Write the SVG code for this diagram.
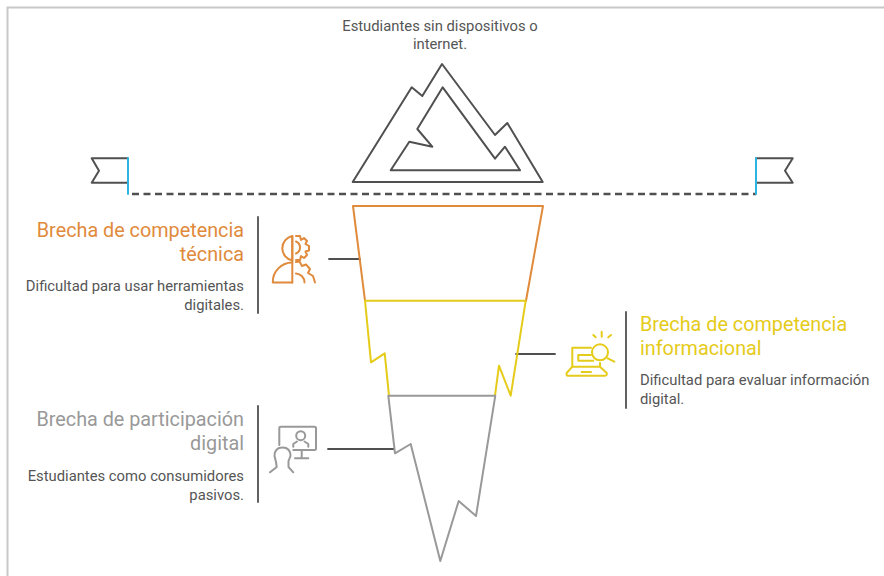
<svg xmlns="http://www.w3.org/2000/svg" width="884" height="576" viewBox="0 0 884 576">
<style>
text{font-family:Roboto,"Liberation Sans",sans-serif}
.t{font-size:19.800px}
.b{font-size:14.800px;fill:#555}
.s{fill:none;stroke-linejoin:round;stroke-linecap:round}
.k{stroke:#505050;stroke-width:2}
.o{stroke:#e08a3c;stroke-width:2}
.y{stroke:#e5cb1a;stroke-width:2}
.g{stroke:#999;stroke-width:2}
.c{stroke:#505050;stroke-width:1.800}
</style>
<rect width="884" height="576" fill="#fff"/>
<path d="M7.500 576V7.500H884" fill="none" stroke="#c8c8c8" stroke-width="2"/>
<g id="peak">
<path class="s k" d="M352.700 182L411.700 87.300L422.300 96L442 64L495 135L507.300 123L542.700 182Z"/>
<path class="s k" d="M442.700 87.300L495 158.700L505 146.700L520 170.300H390.700L409.300 141.700L432.300 146.700L417.300 129Z"/>
<text class="b" x="440" y="31" text-anchor="middle">Estudiantes sin dispositivos o</text>
<text class="b" x="440" y="49" text-anchor="middle">internet.</text>
</g>
<g id="waterline">
<path d="M132 194H756" fill="none" stroke="#505050" stroke-width="2.500" stroke-dasharray="7 4.500"/>
<path class="s k" d="M127.700 158.300H91.700L99 170.700L91.700 182.700H127.700"/>
<path class="s" stroke="#2eb4e0" stroke-width="2" d="M128 158V194"/>
<path class="s k" d="M756 158.300H792.700L785 170.700L792.700 182.700H756"/>
<path class="s" stroke="#2eb4e0" stroke-width="2" d="M756 158V194"/>
</g>
<g id="connectors">
<path class="s c" d="M329 259H360"/>
<path class="s c" d="M516 354H555"/>
<path class="s c" d="M328 449H394"/>
<path class="s c" d="M258 217V313"/>
<path class="s c" d="M626 312V408"/>
<path class="s c" d="M258 406V502"/>
</g>
<g id="tecnica">
<path class="s o" d="M365 300.700L353 206H543L526 300.700"/>
<text class="t" x="244" y="237" text-anchor="end" fill="#e08a3c">Brecha de competencia</text>
<text class="t" x="244" y="261" text-anchor="end" fill="#e08a3c">técnica</text>
<text class="b" x="244" y="291" text-anchor="end">Dificultad para usar herramientas</text>
<text class="b" x="244" y="310" text-anchor="end">digitales.</text>
<g class="s o">
<path d="M292.300 236V282.500"/>
<path d="M292.300 236A12.500 12.500 0 0 0 292.300 260.500Z"/>
<path d="M292.300 262.500A19.500 19.500 0 0 0 272.800 282.500H292.300"/>
<path d="M296 236H300L301 240L304 238L307 241L305.500 244L309 246V250.500L305.500 251.500L307 255L304 258L301 256L300 260H296"/>
<path d="M296 241.500A6.500 6.500 0 0 1 296 253.500"/>
<path d="M296 262L299.500 261.500L302 266L306 264.500L310 269L308 273L313 276L315 282.500"/>
<path d="M296 273.500A9 9 0 0 1 304.500 282.500"/>
</g>
</g>
<g id="informacional">
<path class="s y" d="M389 395.700L384.700 353.300L371 362.300L365 300.700H525.700L510.700 395.700L499 365.700L495 395.700"/>
<text class="t" x="640" y="331" fill="#e5cb1a">Brecha de competencia</text>
<text class="t" x="640" y="355" fill="#e5cb1a">informacional</text>
<text class="b" x="640" y="385">Dificultad para evaluar información</text>
<text class="b" x="640" y="404">digital.</text>
<g class="s y">
<circle cx="600" cy="352.300" r="8"/>
<path d="M607.700 358.300L614.300 361.700"/>
<path d="M601.700 331.700V336.700M593.300 335L595.700 337.300M611 335L608.300 337.300"/>
<path d="M591 347.700H572.300V366.700M591 355H578.300V360.700H593.300"/>
<path d="M572.300 366.700H600V363M572.300 366.700L566.700 373Q566 375.700 568 375.700H605Q607.300 375.700 606.700 373L600 366.700"/>
<path d="M581.700 372H591"/>
</g>
</g>
<g id="participacion">
<path class="s g" d="M388.300 395.700H495.300L476 516L458.700 501L440.300 561L410.700 444L395 453.300Z"/>
<text class="t" x="244" y="426" text-anchor="end" fill="#999">Brecha de participación</text>
<text class="t" x="244" y="450" text-anchor="end" fill="#999">digital</text>
<text class="b" x="244" y="481" text-anchor="end">Estudiantes como consumidores</text>
<text class="b" x="244" y="500" text-anchor="end">pasivos.</text>
<g class="s g">
<path d="M279.300 445V428Q279.300 426.700 281 426.700H314.500Q316 426.700 316 428V448.500Q316 450 314.500 450H293.300"/>
<path d="M301.700 450V458.300M295 458.300H308.300"/>
<circle cx="300.700" cy="435.700" r="4.500"/>
<path d="M293.300 446.700V444L297 441.500M308.300 446.700V444L304.500 441.500"/>
<path d="M276 462L274.500 456Q274.500 447.500 282.500 447.500Q290.500 447.500 290.500 456L288.500 461V467L293.300 472.300M276 462L276.700 467L270 472.300"/>
</g>
</g>
</svg>
